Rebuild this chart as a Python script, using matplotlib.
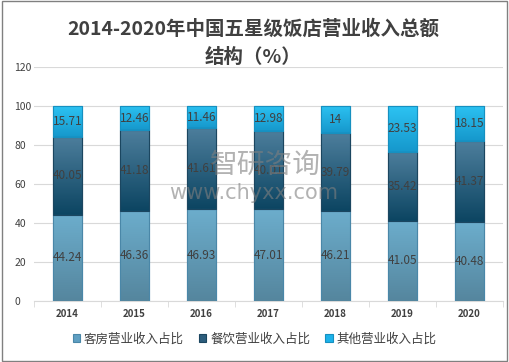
import matplotlib
matplotlib.use("Agg")
import matplotlib.pyplot as plt
import numpy as np
from matplotlib.patches import Rectangle
from matplotlib.colors import LinearSegmentedColormap

plt.rcParams['font.family'] = ['Noto Sans CJK SC', 'DejaVu Sans']

years = ["2014", "2015", "2016", "2017", "2018", "2019", "2020"]
rooms = [44.24, 46.36, 46.93, 47.01, 46.21, 41.05, 40.48]
dining = [40.05, 41.18, 41.61, 40.01, 39.79, 35.42, 41.37]
other = [15.71, 12.46, 11.46, 12.98, 14, 23.53, 18.15]
series_names = ["客房营业收入占比", "餐饮营业收入占比", "其他营业收入占比"]
colors = ["#5f9fc2", "#2c5d7c", "#1cb2ea"]
# gradient (top colour, bottom colour) per series
grads = [("#6cadcc", "#55869e"), ("#4d7e9c", "#0c4562"), ("#2cc2f2", "#1698cc")]
edges = ["#4a87a8", "#1b4660", "#1690c0"]

fig = plt.figure(figsize=(5.09, 3.62), dpi=100)
ax = fig.add_axes([34/509, 1 - 301/362, 469/509, (301 - 67)/362])

x = np.arange(len(years))
rooms_a = np.array(rooms)
dining_a = np.array(dining)
other_a = np.array(other)
bottoms = [np.zeros(len(years)), rooms_a, rooms_a + dining_a]
vals = [rooms_a, dining_a, other_a]

grad_img = np.linspace(1, 0, 64).reshape(-1, 1)

for i in range(3):
    cmap = LinearSegmentedColormap.from_list("g%d" % i, [grads[i][1], grads[i][0]])
    bars = ax.bar(x, vals[i], bottom=bottoms[i], width=0.42, color=colors[i],
                  edgecolor=edges[i], linewidth=0.8, label=series_names[i], zorder=3)
    for j, b in enumerate(bars):
        x0, y0 = b.get_x(), b.get_y()
        w, h = b.get_width(), b.get_height()
        im = ax.imshow(grad_img, cmap=cmap, vmin=0, vmax=1, aspect="auto",
                       extent=(x0, x0 + w, y0, y0 + h), zorder=3.5)
        im.set_clip_path(b)
        edge = Rectangle((x0, y0), w, h, fill=False, edgecolor=edges[i],
                         linewidth=0.8, zorder=3.6)
        ax.add_patch(edge)
        v = vals[i][j]
        txt = ("%g" % v) if v == int(v) else ("%.2f" % v)
        ax.text(x0 + w / 2, y0 + h / 2, txt,
                ha="center", va="center", fontsize=8.5, color="#404040", zorder=4)

ax.set_ylim(0, 120)
ax.set_yticks(range(0, 121, 20))
ax.set_xlim(-0.5, len(years) - 0.5)
ax.set_xticks(x)
ax.set_xticklabels(years, fontsize=7, fontweight="bold", color="#404040")
ax.tick_params(axis="y", labelsize=7.5, colors="#404040", length=0, pad=14)
ax.tick_params(axis="x", length=0, pad=6)
for lbl in ax.get_yticklabels():
    lbl.set_horizontalalignment("left")
ax.yaxis.grid(True, color="#d9d9d9", linewidth=0.8, zorder=0)
ax.set_axisbelow(True)
for s in ["top", "right", "left"]:
    ax.spines[s].set_visible(False)
ax.spines["bottom"].set_color("#d9d9d9")
# minor ticks between categories
ax.set_xticks(np.arange(-0.5, len(years), 1), minor=True)
ax.tick_params(axis="x", which="minor", length=4, color="#d9d9d9")

fig.text(0.497, 1 - 29/362, "2014-2020年中国五星级饭店营业收入总额", ha="center", va="center",
         fontsize=14, fontweight="bold", color="#404040")
fig.text(0.497, 1 - 57/362, "结构（%）", ha="center", va="center",
         fontsize=14, fontweight="bold", color="#404040")

# watermark
fig.text(265/509, 1 - 165/362, "智研咨询", ha="center", va="center", fontsize=20,
         color="#7f7f7f", alpha=0.6, zorder=10)
fig.text(254/509, 1 - 193/362, "www.chyxx.com", ha="center", va="center",
         fontsize=15, color="#7f7f7f", alpha=0.6, zorder=10, fontfamily="DejaVu Sans")

fig.legend(loc="center", bbox_to_anchor=(0.5, 1 - 339/362), ncol=3, frameon=False,
           fontsize=9, handlelength=0.6, handleheight=0.6, columnspacing=1.2,
           handletextpad=0.3, labelcolor="#404040")

fig.patches.append(Rectangle((0.004, 0.004), 0.992, 0.992, transform=fig.transFigure,
                             fill=False, edgecolor="#808080", linewidth=1))

fig.savefig("out.png", dpi=100)
